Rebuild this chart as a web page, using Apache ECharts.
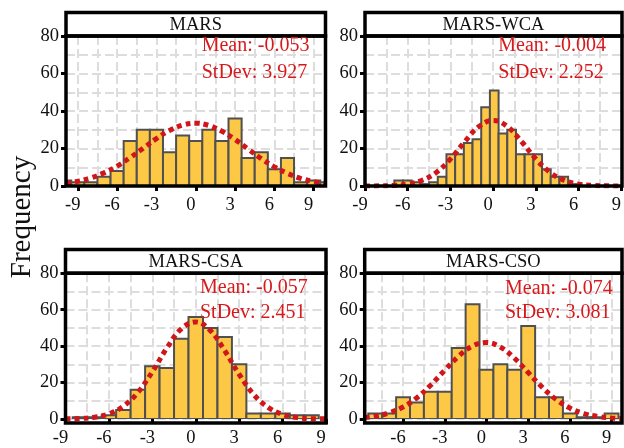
<!DOCTYPE html>
<html><head><meta charset="utf-8">
<script src="https://cdn.jsdelivr.net/npm/echarts@6/dist/echarts.min.js"></script>
<style>html,body{margin:0;padding:0;background:#fff}#c{width:624px;height:448px}</style>
</head><body><div id="c"></div>
<script>
// ---------------- data ----------------
const panelTitles = ['MARS', 'MARS-WCA', 'MARS-CSA', 'MARS-CSO'];
const meanLabels = ['Mean: -0.053', 'Mean: -0.004', 'Mean: -0.057', 'Mean: -0.074'];
const sdLabels = ['StDev: 3.927', 'StDev: 2.252', 'StDev: 2.451', 'StDev: 3.081'];
const xTickValues = [-9, -6, -3, 0, 3, 6, 9];
const xGridValues = [-9, -7.5, -6, -4.5, -3, -1.5, 0, 1.5, 3, 4.5, 6, 7.5, 9];
const yGridValues = [0, 10, 20, 30, 40, 50, 60, 70, 80];
const axisLabelTitle = 'Frequency';

// histogram bins: lower edges, bin width, counts
const marsBinLo = [-10.5, -9.5, -8.5, -7.5, -6.5, -5.5, -4.5, -3.5, -2.5, -1.5, -0.5, 0.5, 1.5, 2.5, 3.5, 4.5, 5.5, 6.5, 7.5, 8.5, 9.5];
const marsBinWidth = 1;
const marsCounts = [3, 2, 2, 5, 8, 24, 30, 30, 18, 27, 24, 30, 24, 36, 15, 18, 9, 15, 2, 3, 2];

const wcaBinLo = [-6.94, -6.33, -5.72, -5.11, -4.50, -3.89, -3.28, -2.67, -2.06, -1.45, -0.84, -0.23, 0.38, 0.99, 1.60, 2.21, 2.82, 3.43, 4.04, 4.65, 5.26];
const wcaBinWidth = 0.61;
const wcaCounts = [3, 3, 2, 1, 2, 5, 17, 17, 23, 25, 42, 51, 28, 30, 17, 17, 17, 9, 5, 5, 1];

const csaBinLo = [-9.5, -8.5, -7.5, -6.5, -5.5, -4.5, -3.5, -2.5, -1.5, -0.5, 0.5, 1.5, 2.5, 3.5, 4.5, 5.5, 6.5, 7.5, 8.5];
const csaBinWidth = 1;
const csaCounts = [0, 1, 1, 2, 5, 16, 29, 28, 44, 56, 50, 45, 30, 3, 3, 3, 2, 2, 0];

const csoBinLo = [-9.5, -8.5, -7.5, -6.5, -5.5, -4.5, -3.5, -2.5, -1.5, -0.5, 0.5, 1.5, 2.5, 3.5, 4.5, 5.5, 6.5, 7.5, 8.5, 9.5];
const csoBinWidth = 1;
const csoCounts = [0, 3, 3, 12, 9, 15, 15, 39, 63, 27, 30, 27, 51, 12, 12, 3, 1, 1, 3, 0];

// fitted normal curves
const marsCurveX = [-9.9, -9, -8, -7, -6, -5, -4, -3, -2, -1, 0, 1, 2, 3, 4, 5, 6, 7, 8, 9, 9.9];
const marsCurveY = [1.5, 2.5, 4.3, 7.0, 10.6, 15.2, 20.2, 25.3, 29.6, 32.5, 33.5, 32.3, 29.2, 24.8, 19.7, 14.6, 10.2, 6.7, 4.1, 2.4, 1.4];
const wcaCurveX = [-9, -8, -7, -6, -5, -4, -3, -2, -1, 0, 1, 2, 3, 4, 5, 6, 7, 8, 9];
const wcaCurveY = [0.0, 0.1, 0.3, 1.0, 3.0, 7.2, 14.4, 23.6, 31.7, 35.0, 31.7, 23.6, 14.4, 7.2, 3.0, 1.0, 0.3, 0.1, 0.0];
const csaCurveX = [-9, -8, -7, -6, -5, -4, -3, -2, -1, 0, 1, 2, 3, 4, 5, 6, 7, 8, 9];
const csaCurveY = [0.1, 0.3, 1.0, 2.8, 7.0, 14.6, 25.9, 38.9, 49.5, 53.3, 48.6, 37.5, 24.5, 13.5, 6.4, 2.5, 0.8, 0.2, 0.1];
const csoCurveX = [-8.76, -8, -7, -6, -5, -4, -3, -2, -1, 0, 1, 2, 3, 4, 5, 6, 7, 8, 9, 9.75];
const csoCurveY = [0.8, 1.5, 3.4, 6.6, 11.7, 18.7, 26.8, 34.5, 40.1, 42.0, 39.5, 33.5, 25.5, 17.5, 10.8, 6.0, 3.0, 1.4, 0.6, 0.2];

// ---------------- layout & style ----------------
const FONT = "Liberation Serif";
const BAR_FILL = '#FCC845', BAR_STROKE = '#505050', CURVE = '#D0161B', ANNO = '#D7191C';
const GRID_LINE = {color: '#DDDDDD', width: 2, type: [9, 4]};
const grids = [
  {left: 66, top: 36, width: 259.5, height: 150},
  {left: 365, top: 36, width: 257, height: 150},
  {left: 65.5, top: 273.3, width: 260.5, height: 149.7},
  {left: 364.7, top: 273.3, width: 257.3, height: 149.7}
];
const stripTops = [12.5, 12.5, 249.5, 249.5];
const xRanges = [[-9.9, 9.9], [-9, 9], [-9, 9], [-8.76, 9.75]];
const annoPos = [[201.7, 46, 73], [498.3, 45.5, 72.5], [200, 287.5, 313], [505, 289, 313]];

const panels = [
  {lo: marsBinLo, w: marsBinWidth, n: marsCounts, cx: marsCurveX, cy: marsCurveY},
  {lo: wcaBinLo, w: wcaBinWidth, n: wcaCounts, cx: wcaCurveX, cy: wcaCurveY},
  {lo: csaBinLo, w: csaBinWidth, n: csaCounts, cx: csaCurveX, cy: csaCurveY},
  {lo: csoBinLo, w: csoBinWidth, n: csoCounts, cx: csoCurveX, cy: csoCurveY}
];

function histRenderItem(binWidth) {
  return function (params, api) {
    const lo = api.value(0), cnt = api.value(1);
    if (!cnt) return null;
    const p0 = api.coord([lo, cnt]);
    const p1 = api.coord([lo + binWidth, 0]);
    const cs = params.coordSys;
    const rect = echarts.graphic.clipRectByRect(
      {x: p0[0], y: p0[1], width: p1[0] - p0[0], height: p1[1] - p0[1]},
      {x: cs.x, y: cs.y, width: cs.width, height: cs.height});
    if (!rect) return null;
    return {type: 'rect', shape: rect, style: {fill: BAR_FILL, stroke: BAR_STROKE, lineWidth: 2}};
  };
}

const xAxis = [], yAxis = [], series = [], graphic = [];
grids.forEach((g, i) => {
  const [xmin, xmax] = xRanges[i];
  xAxis.push({
    gridIndex: i, type: 'value', min: xmin, max: xmax, position: 'bottom',
    axisLine: {show: false, onZero: false},
    axisTick: {show: true, customValues: xTickValues, length: 5, lineStyle: {color: '#000', width: 3}},
    axisLabel: {customValues: xTickValues, margin: 10, fontSize: 18.5, fontFamily: FONT, color: '#111', padding: [0, 10, 0, 0]},
    splitLine: {show: false}
  });
  xAxis.push({
    gridIndex: i, type: 'value', min: xmin, max: xmax, position: 'top',
    axisLine: {show: false, onZero: false}, axisLabel: {show: false},
    axisTick: {show: false, customValues: xGridValues},
    splitLine: {show: true, lineStyle: GRID_LINE}
  });
  yAxis.push({
    gridIndex: i, type: 'value', min: 0, max: 80, interval: 20, position: 'left',
    axisLine: {show: false, onZero: false},
    axisTick: {show: true, length: 5, lineStyle: {color: '#000', width: 3}},
    axisLabel: {margin: 7, fontSize: 18.5, fontFamily: FONT, color: '#111'},
    splitLine: {show: false}
  });
  yAxis.push({
    gridIndex: i, type: 'value', min: 0, max: 80, position: 'right',
    axisLine: {show: false, onZero: false}, axisLabel: {show: false},
    axisTick: {show: false, customValues: yGridValues},
    splitLine: {show: true, lineStyle: GRID_LINE}
  });
  const p = panels[i];
  series.push({
    type: 'custom', xAxisIndex: 2 * i, yAxisIndex: 2 * i, clip: true,
    renderItem: histRenderItem(p.w),
    data: p.lo.map((v, k) => [v, p.n[k]]),
    z: 3
  });
  series.push({
    type: 'line', xAxisIndex: 2 * i, yAxisIndex: 2 * i, smooth: 0.4, showSymbol: false, clip: true,
    data: p.cx.map((v, k) => [v, p.cy[k]]),
    lineStyle: {color: CURVE, width: 5, type: [5, 4], cap: 'butt'},
    z: 4
  });
  // strip + frame
  const st = stripTops[i];
  graphic.push({
    type: 'rect', z: 50,
    shape: {x: g.left, y: st, width: g.width, height: g.top - st},
    style: {fill: '#fff', stroke: '#000', lineWidth: 3.5}
  });
  graphic.push({
    type: 'text', z: 51,
    style: {text: panelTitles[i], x: g.left + g.width / 2, y: (st + g.top) / 2 + 1,
      textAlign: 'center', textVerticalAlign: 'middle', font: '18.5px ' + FONT, fill: '#111'}
  });
  graphic.push({
    type: 'rect', z: 50,
    shape: {x: g.left, y: g.top, width: g.width, height: g.height},
    style: {fill: 'none', stroke: '#000', lineWidth: 3.5}
  });
  const a = annoPos[i];
  graphic.push({type: 'text', z: 52, style: {text: meanLabels[i], x: a[0], y: a[1], textAlign: 'left', textVerticalAlign: 'middle', font: '20px ' + FONT, fill: ANNO}});
  graphic.push({type: 'text', z: 52, style: {text: sdLabels[i], x: a[0], y: a[2], textAlign: 'left', textVerticalAlign: 'middle', font: '20px ' + FONT, fill: ANNO}});
});
graphic.push({
  type: 'text', z: 52, x: 22, y: 217, rotation: Math.PI / 2,
  style: {text: axisLabelTitle, textAlign: 'center', textVerticalAlign: 'middle', font: '29px ' + FONT, fill: '#111'}
});

const chart = echarts.init(document.getElementById('c'), null, {renderer: 'canvas'});
chart.setOption({
  animation: false,
  backgroundColor: '#fff',
  grid: grids.map(g => Object.assign({show: false}, g)),
  xAxis, yAxis, series, graphic
});
</script></body></html>
